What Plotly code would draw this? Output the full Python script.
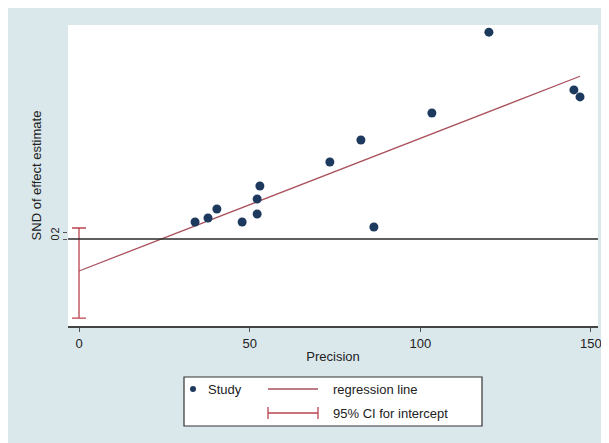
import plotly.graph_objects as go

# Data
precision = [34.0, 37.8, 40.4, 47.8, 52.2, 52.2, 53.0, 73.5, 82.6, 86.4, 103.4, 120.1, 145.0, 146.8]
snd = [4.86, 6.0, 8.57, 4.86, 7.14, 11.43, 15.14, 22.0, 28.3, 3.43, 36.0, 59.1, 42.6, 40.6]
intercept = -9.14
slope = 0.379
ci_low = -22.6
ci_high = 3.14
x_ticks = [0, 50, 100, 150]
y_ticks = [0, 2]
y_ticktext = ["0", "2"]

W, H = 609, 443
OFF = 8  # page body margin in the screenshot
# plot area in screen pixels: x 68..598, y 25..326
SX0, SX1, SY0, SY1 = 68, 598, 25, 326
L, T = SX0 - OFF, SY0 - OFF
R, B = W - (SX1 - OFF), H - (SY1 - OFF)
PW, PH = SX1 - SX0, SY1 - SY0

def px(x):
    return (x - SX0) / PW

def py(y):
    return (SY1 - y) / PH

NAVY = "#1d3a5e"
REG = "#a9525e"
CI = "#b9434f"
FONT = "Liberation Sans, Arial, sans-serif"

fig = go.Figure()

xr = [0, max(precision)]
fig.add_trace(go.Scatter(x=xr, y=[intercept + slope * v for v in xr], mode="lines",
                         line=dict(color=REG, width=1.3), hoverinfo="skip", showlegend=False))
fig.add_trace(go.Scatter(x=[0], y=[intercept], mode="markers", marker=dict(size=0.1, color=CI),
                         error_y=dict(type="data", symmetric=False, array=[ci_high - intercept],
                                      arrayminus=[intercept - ci_low], color=CI, thickness=1.3, width=7),
                         showlegend=False, hoverinfo="skip"))
fig.add_trace(go.Scatter(x=precision, y=snd, mode="markers",
                         marker=dict(color=NAVY, size=9), showlegend=False))

shapes = []
# zero reference line
shapes.append(dict(type="line", xref="paper", yref="y", x0=0, x1=1, y0=0, y1=0,
                   line=dict(color="#2a2a2a", width=1.4)))
# legend box
shapes.append(dict(type="rect", xref="paper", yref="paper", x0=px(184), x1=px(482),
                   y0=py(426), y1=py(377), fillcolor="white", line=dict(color="#333", width=1.2)))
# legend marker
shapes.append(dict(type="circle", xref="paper", yref="paper", x0=px(190), x1=px(196),
                   y0=py(392), y1=py(386), fillcolor=NAVY, line=dict(width=0)))
# legend regression line
shapes.append(dict(type="line", xref="paper", yref="paper", x0=px(268), x1=px(318),
                   y0=py(389), y1=py(389), line=dict(color=REG, width=1.3)))
# legend CI symbol
shapes.append(dict(type="line", xref="paper", yref="paper", x0=px(268), x1=px(318),
                   y0=py(413), y1=py(413), line=dict(color=CI, width=1.3)))
for xx in (268, 318):
    shapes.append(dict(type="line", xref="paper", yref="paper", x0=px(xx), x1=px(xx),
                       y0=py(407), y1=py(419), line=dict(color=CI, width=1.3)))

annotations = [
    dict(text="Study", x=px(206), y=py(389), xref="paper", yref="paper", xanchor="left",
         yanchor="middle", showarrow=False, font=dict(size=13, color="#222", family=FONT)),
    dict(text="regression line", x=px(331), y=py(389), xref="paper", yref="paper", xanchor="left",
         yanchor="middle", showarrow=False, font=dict(size=13, color="#222", family=FONT)),
    dict(text="95% CI for intercept", x=px(331), y=py(413), xref="paper", yref="paper", xanchor="left",
         yanchor="middle", showarrow=False, font=dict(size=13, color="#222", family=FONT)),
]

fig.update_layout(
    width=W, height=H,
    margin=dict(l=L, r=R, t=T, b=B),
    paper_bgcolor="#dbe8eb", plot_bgcolor="white",
    font=dict(family=FONT, size=13, color="#222"),
    shapes=shapes, annotations=annotations,
    xaxis=dict(range=[(SX0 - 79) / 3.413, (SX1 - 79) / 3.413], tickvals=x_ticks,
               showgrid=False, zeroline=False, showline=True, linecolor="#444", linewidth=2,
               ticks="outside", ticklen=4, tickcolor="#555",
               title=dict(text="Precision", standoff=2, font=dict(size=13))),
    yaxis=dict(range=[(239 - SY1) / 3.5, (239 - SY0) / 3.5], tickvals=y_ticks, ticktext=y_ticktext,
               tickangle=-90, showgrid=False, zeroline=False, showline=False,
               ticks="outside", ticklen=4, tickcolor="#555", tickfont=dict(size=11),
               title=dict(text="SND of effect estimate", standoff=4, font=dict(size=13))),
)

fig.write_html("out.html")
